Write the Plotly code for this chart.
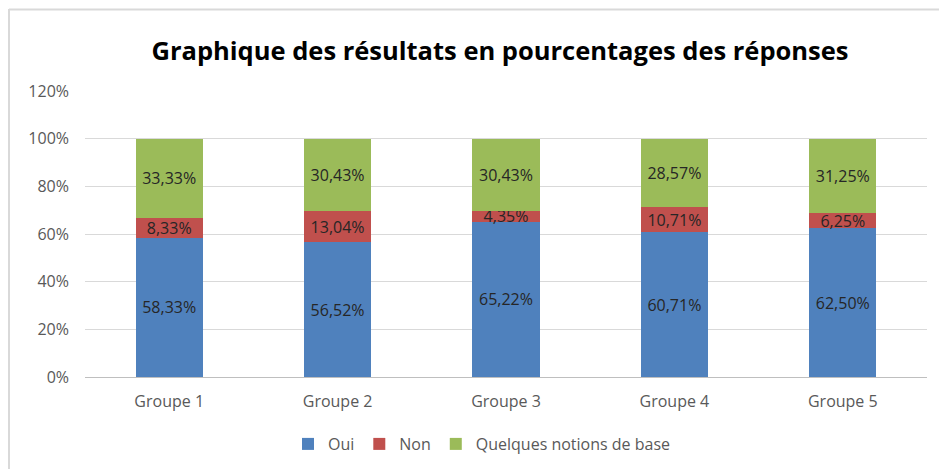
import plotly.graph_objects as go

categories = ["Groupe 1", "Groupe 2", "Groupe 3", "Groupe 4", "Groupe 5"]
oui = [58.33, 56.52, 65.22, 60.71, 62.50]
non = [8.33, 13.04, 4.35, 10.71, 6.25]
notions = [33.33, 30.43, 30.43, 28.57, 31.25]
series_names = ["Oui", "Non", "Quelques notions de base"]
colors = ["#4F81BD", "#C0504D", "#9BBB59"]
y_ticks = [0, 20, 40, 60, 80, 100, 120]
y_tick_labels = [f"{v}%" for v in y_ticks]


def fmt(v):
    return f"{v:.2f}".replace(".", ",") + "%"


FONT = "Open Sans"
fig = go.Figure()
for name, vals, col in zip(series_names, [oui, non, notions], colors):
    fig.add_trace(go.Bar(
        x=categories, y=vals, name=name,
        marker=dict(color=col, line=dict(width=0)),
        text=[fmt(v) for v in vals],
        textposition="inside", insidetextanchor="middle",
        textangle=0, constraintext="none",
        textfont=dict(family=FONT, size=16, color="#262626"),
    ))

L, R, T, B = 85, 12, 91, 92
W, H = 939, 469
pw, ph = W - L - R, H - T - B


def px_x(x):
    return (x - L) / pw


def px_y(y):
    return (H - B - y) / ph


fig.update_layout(
    barmode="stack", bargap=0.6,
    width=W, height=H,
    margin=dict(l=L, r=R, t=T, b=B, autoexpand=False),
    paper_bgcolor="white", plot_bgcolor="white",
    font=dict(family=FONT, color="#595959", size=16),
    title=dict(text="<b>Graphique des résultats en pourcentages des réponses</b>",
               x=500 / W, xref="container", xanchor="center",
               y=1 - 51 / H, yref="container", yanchor="middle",
               font=dict(family=FONT, size=25.5, color="#000000")),
    legend=dict(orientation="h", x=px_x(482), xanchor="center",
                y=px_y(444), yanchor="middle",
                font=dict(family=FONT, size=16, color="#595959"),
                itemwidth=30, traceorder="normal"),
    showlegend=True,
    shapes=[
        dict(type="line", xref="paper", yref="paper",
             x0=px_x(9), x1=px_x(9), y0=px_y(9), y1=px_y(480),
             line=dict(color="#d9d9d9", width=2)),
        dict(type="line", xref="paper", yref="paper",
             x0=px_x(9), x1=px_x(950), y0=px_y(9.5), y1=px_y(9.5),
             line=dict(color="#d9d9d9", width=2)),
    ],
)
fig.update_yaxes(range=[0, 120], tickvals=y_ticks, ticktext=y_tick_labels,
                 showgrid=True, gridcolor="#d9d9d9", gridwidth=1,
                 zeroline=False, showline=False, ticks="", ticklabelstandoff=15,
                 tickfont=dict(family=FONT, size=16, color="#595959"))
fig.update_xaxes(showline=True, linecolor="#bfbfbf", linewidth=1,
                 ticks="", ticklabelstandoff=10,
                 tickfont=dict(family=FONT, size=16, color="#595959"))

fig.write_html("out.html", config={"displayModeBar": False},
               post_script="document.body.style.margin='0';document.body.style.overflow='hidden';")
